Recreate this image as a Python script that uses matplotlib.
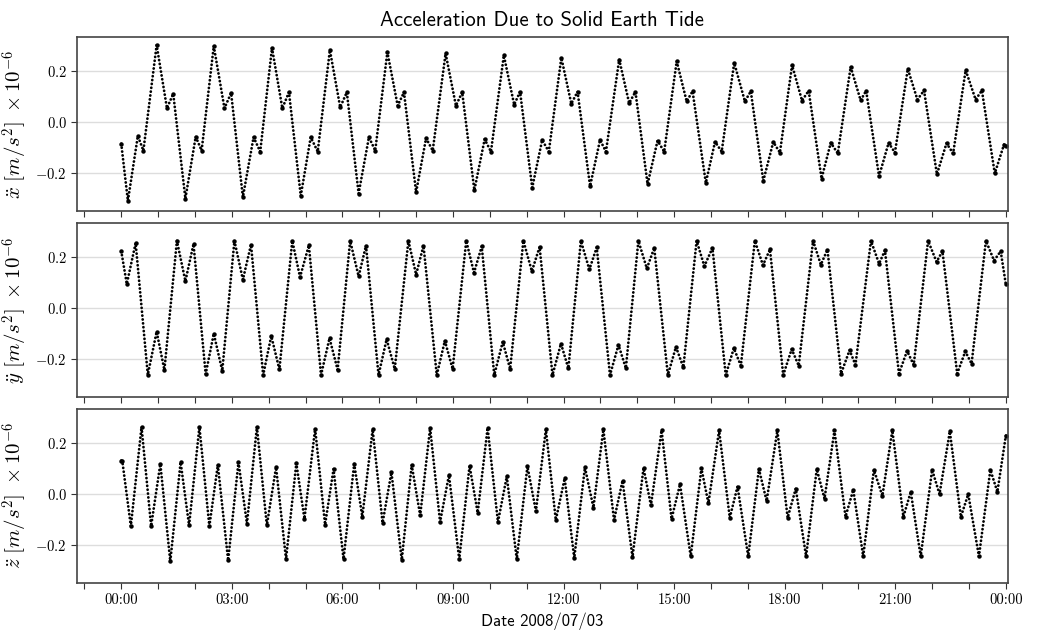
import numpy as np
import pandas as pd
import matplotlib.pyplot as plt
import matplotlib.dates as mdates
from matplotlib.ticker import FuncFormatter

# hours after 2008-07-03 00:00 and acceleration (1e-6 m/s^2)
x_hours = [0.00, 0.18, 0.45, 0.60, 0.96, 1.24, 1.41, 1.74, 2.02, 2.18, 2.51, 2.80, 2.98,
           3.30, 3.59, 3.77, 4.09, 4.37, 4.55, 4.87, 5.14, 5.33, 5.66, 5.94, 6.12, 6.44,
           6.72, 6.89, 7.22, 7.50, 7.67, 8.00, 8.27, 8.45, 8.80, 9.08, 9.25, 9.58, 9.86,
           10.03, 10.38, 10.66, 10.82, 11.15, 11.42, 11.60, 11.94, 12.21, 12.38, 12.72,
           12.99, 13.15, 13.51, 13.78, 13.95, 14.28, 14.55, 14.73, 15.07, 15.34, 15.50,
           15.86, 16.11, 16.29, 16.63, 16.92, 17.08, 17.42, 17.69, 17.87, 18.20, 18.47,
           18.65, 19.00, 19.25, 19.44, 19.79, 20.06, 20.21, 20.56, 20.82, 20.99, 21.34,
           21.60, 21.78, 22.13, 22.39, 22.57, 22.91, 23.18, 23.35, 23.70, 23.95, 24.00]
x_acc = [-0.085, -0.310, -0.054, -0.112, 0.304, 0.055, 0.112, -0.301, -0.057, -0.112, 0.300,
         0.055, 0.115, -0.295, -0.059, -0.116, 0.293, 0.055, 0.118, -0.290, -0.059, -0.116,
         0.284, 0.059, 0.118, -0.281, -0.059, -0.112, 0.276, 0.065, 0.118, -0.276, -0.063,
         -0.112, 0.271, 0.065, 0.118, -0.268, -0.067, -0.116, 0.263, 0.069, 0.120, -0.258,
         -0.070, -0.116, 0.254, 0.073, 0.120, -0.252, -0.070, -0.116, 0.247, 0.075, 0.120,
         -0.244, -0.073, -0.116, 0.240, 0.082, 0.122, -0.239, -0.077, -0.116, 0.234, 0.082,
         0.122, -0.231, -0.078, -0.120, 0.225, 0.085, 0.124, -0.222, -0.081, -0.123, 0.218,
         0.086, 0.124, -0.213, -0.081, -0.120, 0.210, 0.089, 0.125, -0.205, -0.083, -0.123,
         0.205, 0.089, 0.125, -0.202, -0.088, -0.095]

y_hours = [0.00, 0.15, 0.39, 0.72, 0.96, 1.17, 1.51, 1.74, 1.96, 2.29, 2.51, 2.74, 3.07,
           3.30, 3.52, 3.85, 4.07, 4.29, 4.64, 4.85, 5.09, 5.42, 5.65, 5.87, 6.21, 6.44,
           6.64, 6.98, 7.20, 7.42, 7.79, 8.00, 8.20, 8.56, 8.78, 8.99, 9.36, 9.57, 9.78,
           10.12, 10.35, 10.55, 10.91, 11.14, 11.35, 11.70, 11.93, 12.13, 12.47, 12.70,
           12.90, 13.26, 13.49, 13.69, 14.03, 14.26, 14.46, 14.83, 15.05, 15.25, 15.61,
           15.82, 16.04, 16.40, 16.62, 16.81, 17.19, 17.41, 17.60, 17.96, 18.19, 18.38,
           18.77, 18.98, 19.16, 19.53, 19.76, 19.92, 20.34, 20.56, 20.72, 21.10, 21.32,
           21.50, 21.89, 22.12, 22.28, 22.68, 22.90, 23.07, 23.46, 23.68, 23.86, 24.00]
y_acc = [0.224, 0.095, 0.256, -0.263, -0.093, -0.244, 0.265, 0.106, 0.252, -0.260, -0.101,
         -0.247, 0.265, 0.112, 0.250, -0.264, -0.110, -0.242, 0.265, 0.122, 0.247, -0.264,
         -0.119, -0.243, 0.265, 0.125, 0.246, -0.264, -0.123, -0.240, 0.265, 0.132, 0.246,
         -0.264, -0.129, -0.240, 0.265, 0.139, 0.243, -0.264, -0.133, -0.240, 0.265, 0.145,
         0.241, -0.264, -0.140, -0.238, 0.265, 0.152, 0.239, -0.264, -0.145, -0.237, 0.265,
         0.156, 0.237, -0.264, -0.153, -0.234, 0.265, 0.165, 0.237, -0.264, -0.158, -0.227,
         0.265, 0.169, 0.231, -0.264, -0.162, -0.227, 0.265, 0.171, 0.230, -0.258, -0.166,
         -0.224, 0.265, 0.175, 0.227, -0.258, -0.169, -0.224, 0.265, 0.182, 0.224, -0.258,
         -0.171, -0.219, 0.265, 0.187, 0.224, 0.093]

z_hours = [0.00, 0.03, 0.26, 0.55, 0.81, 1.06, 1.33, 1.61, 1.84, 2.12, 2.39, 2.62, 2.90,
           3.18, 3.41, 3.68, 3.95, 4.20, 4.47, 4.75, 4.97, 5.26, 5.53, 5.76, 6.03, 6.32,
           6.54, 6.82, 7.09, 7.33, 7.61, 7.88, 8.11, 8.38, 8.65, 8.89, 9.17, 9.45, 9.67,
           9.94, 10.22, 10.46, 10.73, 11.02, 11.25, 11.52, 11.79, 12.03, 12.29, 12.58,
           12.81, 13.08, 13.37, 13.60, 13.87, 14.17, 14.37, 14.66, 14.93, 15.16, 15.45,
           15.74, 15.93, 16.22, 16.51, 16.72, 17.01, 17.30, 17.51, 17.80, 18.08, 18.30,
           18.58, 18.87, 19.08, 19.35, 19.65, 19.86, 20.13, 20.42, 20.65, 20.92, 21.22,
           21.42, 21.69, 22.00, 22.20, 22.48, 22.78, 22.98, 23.27, 23.58, 23.77, 24.00]
z_acc = [0.131, 0.128, -0.127, 0.264, -0.127, 0.118, -0.266, 0.125, -0.124, 0.264, -0.127,
         0.114, -0.262, 0.125, -0.117, 0.264, -0.124, 0.105, -0.257, 0.121, -0.098, 0.257,
         -0.121, 0.098, -0.257, 0.118, -0.090, 0.254, -0.114, 0.085, -0.260, 0.114, -0.085,
         0.260, -0.111, 0.074, -0.257, 0.111, -0.074, 0.260, -0.111, 0.069, -0.257, 0.109,
         -0.068, 0.254, -0.103, 0.061, -0.253, 0.105, -0.054, 0.254, -0.103, 0.052, -0.249,
         0.102, -0.045, 0.250, -0.098, 0.038, -0.246, 0.101, -0.037, 0.250, -0.094, 0.029,
         -0.246, 0.098, -0.028, 0.250, -0.094, 0.021, -0.246, 0.098, -0.019, 0.250, -0.090,
         0.016, -0.246, 0.095, -0.008, 0.250, -0.090, 0.008, -0.246, 0.095, -0.001, 0.246,
         -0.090, -0.001, -0.246, 0.095, 0.008, 0.230]

labels = [r"$\ddot{x}\ [m/s^2]\ \times 10^{-6}$",
          r"$\ddot{y}\ [m/s^2]\ \times 10^{-6}$",
          r"$\ddot{z}\ [m/s^2]\ \times 10^{-6}$"]

plt.rcParams["font.family"] = "cmr10"
plt.rcParams["mathtext.fontset"] = "cm"
plt.rcParams["axes.unicode_minus"] = False

day = pd.Timestamp("2008-07-03")


def to_dates(hours):
    return day + pd.to_timedelta(np.array(hours), unit="h")


fig, axes = plt.subplots(3, 1, figsize=(10.41, 6.30), dpi=100, sharex=True, sharey=True)
fig.subplots_adjust(left=0.074, right=0.968, top=0.941, bottom=0.075, hspace=0.069)

series = [(x_hours, x_acc), (y_hours, y_acc), (z_hours, z_acc)]
for ax, (hours, acc), lab in zip(axes, series, labels):
    t = to_dates(hours)
    ax.plot(t, acc, color="k", lw=2.0, linestyle=(0, (0.05, 1.35)),
            dash_capstyle="round", solid_joinstyle="round")
    ax.plot(t, acc, "o", color="k", ms=3.2, mew=0)
    ax.set_ylabel(lab, fontsize=15)
    ax.grid(axis="y", color="#dddddd", lw=1)
    ax.set_axisbelow(True)
    ax.set_yticks([-0.2, 0.0, 0.2])
    ax.yaxis.set_major_formatter(FuncFormatter(lambda v, p: r"$\mathrm{%.1f}$" % v))
    ax.tick_params(axis="both", which="both", direction="out", length=4, width=0.8,
                   labelsize=10.5, colors="#333333", labelcolor="k")
    for sp in ax.spines.values():
        sp.set_color("#444444")
        sp.set_linewidth(1.2)

axes[0].set_ylim(-0.35, 0.335)
axes[0].set_xlim(day - pd.Timedelta(hours=1.2), day + pd.Timedelta(hours=24.05))
axes[2].xaxis.set_major_locator(mdates.HourLocator(byhour=range(0, 24, 3)))
axes[2].xaxis.set_minor_locator(mdates.HourLocator())
axes[2].xaxis.set_major_formatter(mdates.DateFormatter("%H:%M"))
axes[2].set_xlabel("Date 2008/07/03", fontfamily="cmss10", fontsize=12)
axes[0].set_title("Acceleration Due to Solid Earth Tide", fontfamily="cmss10", fontsize=15, pad=8)

plt.savefig("out.png", dpi=100)
